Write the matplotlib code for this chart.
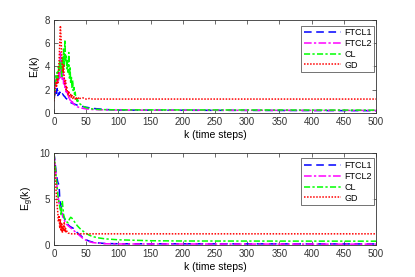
import matplotlib
matplotlib.use("Agg")
import matplotlib.pyplot as plt

plt.rcParams["font.family"] = ["Liberation Sans", "DejaVu Sans"]
plt.rcParams["mathtext.fontset"] = "custom"
plt.rcParams["mathtext.rm"] = "Liberation Sans"
plt.rcParams["mathtext.it"] = "Liberation Sans"

labels = ["FTCL1", "FTCL2", "CL", "GD"]
colors = ["#0000ff", "#ff00ff", "#00ff00", "#ff0000"]
styles = [(0, (5, 3)), (0, (5, 1.5, 1.5, 1.5)), (0, (4, 1.5, 1.5, 1.5)), (0, (1, 1))]

# --- top panel: E_l(k) ---
kl_ftcl1 = [0, 1, 2, 3, 4, 5, 6, 7, 8, 9, 10, 11, 12, 13, 14, 15, 16, 17, 18, 19, 20,
            22, 24, 26, 28, 30, 35, 40, 45, 50, 60, 70, 80, 100, 500]
el_ftcl1 = [1.2, 1.5, 1.8, 2.0, 1.7, 2.1, 1.5, 1.7, 1.6, 1.8, 1.6, 1.7, 1.6, 1.65, 1.6, 1.5,
            1.45, 1.4, 1.3, 1.25, 1.2, 1.1, 1.0, 0.9, 0.85, 0.8, 0.7, 0.6, 0.55, 0.5, 0.4,
            0.35, 0.3, 0.25, 0.2]

kl_ftcl2 = [0, 1, 2, 3, 4, 5, 6, 7, 8, 9, 10, 11, 12, 13, 14, 15, 16, 17, 18, 19, 20,
            21, 22, 23, 24, 25, 26, 27, 28, 29, 30, 32, 34, 36, 38, 40, 45, 50, 60, 70, 100, 500]
el_ftcl2 = [1.2, 2.0, 2.8, 2.3, 3.2, 2.5, 3.5, 2.8, 4.0, 3.0, 5.3, 3.5, 4.5, 2.8, 3.8, 2.5,
            3.0, 2.2, 2.6, 1.8, 2.0, 1.5, 1.7, 1.3, 1.4, 1.1, 1.2, 1.0, 0.9, 0.95, 0.8, 0.7,
            0.65, 0.55, 0.5, 0.45, 0.4, 0.35, 0.3, 0.28, 0.25, 0.22]

kl_cl = [0, 1, 2, 3, 4, 5, 6, 7, 8, 9, 10, 11, 12, 13, 14, 15, 16, 17, 18, 19, 20,
         21, 22, 23, 24, 25, 26, 27, 28, 29, 30, 31, 32, 33, 34, 35, 36, 37, 38, 39, 40,
         45, 50, 60, 70, 100, 500]
el_cl = [1.2, 1.8, 2.5, 3.2, 2.8, 3.5, 3.0, 4.0, 3.5, 4.5, 3.8, 4.2, 3.0, 4.8, 3.5, 5.5,
         4.0, 6.3, 4.5, 5.0, 3.8, 4.5, 3.5, 5.2, 3.0, 4.0, 2.5, 3.2, 2.2, 2.8, 1.8, 2.2,
         1.5, 1.8, 1.2, 1.4, 1.0, 1.1, 0.9, 0.85, 0.8, 0.6, 0.45, 0.35, 0.3, 0.27, 0.25]

kl_gd = [0, 1, 2, 3, 4, 5, 6, 7, 8, 9, 10, 11, 12, 13, 14, 15, 16, 17, 18, 19, 20,
         21, 22, 23, 24, 25, 26, 27, 28, 29, 30, 31, 32, 33, 34, 35, 36, 37, 38, 39, 40,
         45, 50, 55, 60, 500]
el_gd = [1.0, 1.5, 2.0, 2.6, 2.2, 3.0, 2.5, 3.5, 4.5, 6.0, 7.5, 6.5, 5.0, 4.0, 3.5, 4.2,
         3.0, 2.5, 2.8, 2.0, 2.2, 1.8, 1.6, 1.9, 1.5, 1.4, 1.6, 1.3, 1.5, 1.3, 1.2, 1.4,
         1.3, 1.2, 1.35, 1.25, 1.3, 1.2, 1.3, 1.2, 1.25, 1.3, 1.2, 1.25, 1.2, 1.2]

# --- bottom panel: E_g(k) ---
kg_ftcl1 = [0, 2, 4, 6, 8, 9, 10, 12, 14, 16, 18, 20, 25, 30, 35, 40, 45, 50, 55, 60,
            70, 80, 100, 500]
eg_ftcl1 = [10, 8.8, 7.5, 6.8, 6.5, 5.0, 4.5, 3.8, 3.2, 2.9, 2.6, 2.3, 2.0, 1.8, 1.4,
            1.1, 0.8, 0.55, 0.4, 0.3, 0.2, 0.15, 0.12, 0.1]

kg_ftcl2 = [0, 2, 4, 6, 8, 10, 12, 14, 16, 18, 20, 25, 30, 35, 40, 45, 50, 55, 60, 70,
            80, 100, 500]
eg_ftcl2 = [10, 8.5, 7.0, 5.5, 4.5, 4.0, 3.5, 3.0, 2.7, 2.4, 2.2, 1.9, 1.6, 1.3, 1.0,
            0.7, 0.5, 0.35, 0.25, 0.18, 0.12, 0.1, 0.08]

kg_cl = [0, 2, 4, 6, 8, 10, 11, 12, 13, 14, 15, 16, 18, 20, 22, 24, 26, 28, 30, 33, 36,
         40, 45, 50, 55, 60, 70, 80, 100, 150, 200, 500]
eg_cl = [10, 8.5, 7.0, 5.5, 4.5, 3.8, 3.2, 4.2, 4.8, 4.0, 3.3, 3.0, 2.7, 2.5, 2.4, 2.8,
         3.0, 2.9, 2.7, 2.4, 2.1, 1.8, 1.5, 1.25, 1.05, 0.9, 0.75, 0.65, 0.55, 0.45, 0.42, 0.4]

kg_gd = [0, 2, 4, 6, 7, 8, 9, 10, 11, 12, 13, 14, 15, 16, 17, 18, 19, 20, 22, 25, 500]
eg_gd = [10, 7.5, 5.0, 3.5, 2.5, 3.2, 1.8, 2.8, 1.5, 2.4, 1.3, 2.0, 1.5, 2.5, 1.4, 1.8,
         1.3, 1.5, 1.3, 1.2, 1.2]

top_series = [(kl_ftcl1, el_ftcl1), (kl_ftcl2, el_ftcl2), (kl_cl, el_cl), (kl_gd, el_gd)]
bot_series = [(kg_ftcl1, eg_ftcl1), (kg_ftcl2, eg_ftcl2), (kg_cl, eg_cl), (kg_gd, eg_gd)]

fig = plt.figure(figsize=(4.15, 2.77), dpi=100)
ax1 = fig.add_axes([0.130, 0.592, 0.776, 0.336])
ax2 = fig.add_axes([0.130, 0.116, 0.776, 0.332])


def draw_panel(ax, series, ylim, yticks, ylabel):
    for (k, e), lab, c, ls in zip(series, labels, colors, styles):
        ax.plot(k, e, color=c, linestyle=ls, linewidth=1.1, label=lab)
    ax.set_xlim(0, 500)
    ax.set_ylim(*ylim)
    ax.set_xticks(range(0, 501, 50))
    ax.set_yticks(yticks)
    ax.tick_params(direction="in", top=True, right=True, labelsize=7, length=3,
                   width=0.5, pad=3, colors="#333333")
    for sp in ax.spines.values():
        sp.set_linewidth(0.6)
        sp.set_color("#333333")
    ax.set_xlabel("k (time steps)", fontsize=7.5, labelpad=2)
    ax.set_ylabel(ylabel, fontsize=7.5, labelpad=2)
    leg = ax.legend(loc="upper right", bbox_to_anchor=(0.995, 0.94), fontsize=6.5,
                    handlelength=4.2, frameon=True, fancybox=False, borderpad=0.3,
                    labelspacing=0.2, handletextpad=0.3, borderaxespad=0)
    leg.get_frame().set_edgecolor("#333333")
    leg.get_frame().set_linewidth(0.6)


draw_panel(ax1, top_series, (0, 8), [0, 2, 4, 6, 8], r"E$_\mathrm{l}$(k)")
draw_panel(ax2, bot_series, (0, 10), [0, 5, 10], r"E$_\mathrm{g}$(k)")

fig.savefig("out.png", dpi=100)
